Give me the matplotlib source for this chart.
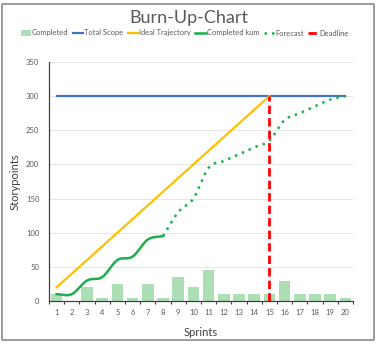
import matplotlib
matplotlib.use("Agg")
import matplotlib.pyplot as plt
import numpy as np
from matplotlib.patches import Rectangle

plt.rcParams['font.family'] = ['Lato', 'DejaVu Sans']

# --- Daten ---
sprints = list(range(1, 21))
completed = [10, 0, 20, 5, 25, 5, 25, 5, 35, 20, 45, 10, 10, 10, 10, 30, 10, 10, 10, 5]
total_scope = [300] * 20
ideal_x = list(range(1, 16))
ideal = [20, 40, 60, 80, 100, 120, 140, 160, 180, 200, 220, 240, 260, 280, 300]
kum_x = list(range(1, 9))
completed_kum = [10, 10, 30, 35, 60, 65, 90, 95]
forecast_x = list(range(8, 21))
forecast = [95, 130, 150, 195, 205, 215, 225, 235, 265, 275, 285, 295, 300]
deadline_sprint = 15
deadline_value = 300


def smooth(x, y, n=24):
    # Catmull-Rom Kurve wie "geglaettete Linie" in Excel
    x = np.asarray(x, float)
    y = np.asarray(y, float)
    px = np.concatenate([[2 * x[0] - x[1]], x, [2 * x[-1] - x[-2]]])
    py = np.concatenate([[2 * y[0] - y[1]], y, [2 * y[-1] - y[-2]]])
    xs, ys = [], []
    t = np.linspace(0, 1, n)
    for i in range(1, len(px) - 2):
        for p, out in ((px, xs), (py, ys)):
            p0, p1, p2, p3 = p[i - 1], p[i], p[i + 1], p[i + 2]
            out.extend(0.5 * (2 * p1 + (-p0 + p2) * t
                              + (2 * p0 - 5 * p1 + 4 * p2 - p3) * t ** 2
                              + (-p0 + 3 * p1 - 3 * p2 + p3) * t ** 3))
    return xs, ys


fig = plt.figure(figsize=(3.77, 3.44), dpi=100)
ax = fig.add_axes([49 / 377, 1 - 301 / 344, 304 / 377, 239 / 344])

ax.bar(sprints, completed, width=0.77, color='#addfb7', label='Completed', zorder=2)
ax.plot(sprints, total_scope, color='#4472C4', lw=1.6, label='Total Scope', zorder=3)
ax.plot(ideal_x, ideal, color='#FFC000', lw=1.6, label='Ideal Trajectory', zorder=3)
kx, ky = smooth(kum_x, completed_kum)
ax.plot(kx, ky, color='#1fae4c', lw=1.8, label='Completed kum', zorder=4)
fx, fy = smooth(forecast_x, forecast)
ax.plot(fx, fy, color='#1fae4c', lw=1.8, ls=(0, (1, 2)), label='Forecast', zorder=4)
ax.plot([deadline_sprint, deadline_sprint], [0, deadline_value], color='#FF0000', lw=2,
        ls=(0, (3, 1.5)), label='Deadline', zorder=5)

ax.set_xlim(0.5, 20.5)
ax.set_ylim(0, 350)
ax.set_xticks(sprints)
ax.set_xticks(np.arange(0.5, 21, 1), minor=True)
ax.set_yticks(range(0, 351, 50))
ax.tick_params(axis='x', which='major', length=0, pad=6, labelsize=5.5, labelcolor='#595959')
ax.tick_params(axis='x', which='minor', length=2.5, width=0.8, color='#404040', direction='out')
ax.tick_params(axis='y', length=0, pad=7, labelsize=5.5, labelcolor='#595959')
ax.grid(axis='y', color='#e6e6e6', lw=0.7, zorder=0)
ax.set_axisbelow(True)

for s in ['top', 'right']:
    ax.spines[s].set_visible(False)
ax.spines['left'].set_color('#404040')
ax.spines['bottom'].set_color('#404040')
ax.spines['left'].set_linewidth(0.9)
ax.spines['bottom'].set_linewidth(0.9)

ax.set_xlabel('Sprints', fontsize=8, color='#404040')
ax.set_ylabel('Storypoints', fontsize=8, color='#404040')
ax.xaxis.set_label_coords(0.5, -0.11)
ax.yaxis.set_label_coords(-0.095, 0.5)

fig.text(0.5, 1 - 18 / 344, 'Burn-Up-Chart', ha='center', va='center', fontsize=13, color='#595959')

handles, labels = ax.get_legend_handles_labels()
order = ['Completed', 'Total Scope', 'Ideal Trajectory', 'Completed kum', 'Forecast', 'Deadline']
hl = dict(zip(labels, handles))
fig.legend([hl[k] for k in order], order, loc='center', bbox_to_anchor=(0.49, 1 - 33 / 344),
           ncol=6, frameon=False, fontsize=5.4, handlelength=1.4, handletextpad=0.1,
           columnspacing=0.6, labelcolor='#595959')

# Rahmen um das Diagramm
fig.patches.append(Rectangle((2 / 377, 4 / 344), 372 / 377, 336 / 344, transform=fig.transFigure,
                             fill=False, edgecolor='#8c8c8c', lw=1.2))

plt.savefig('out.png', dpi=100)
